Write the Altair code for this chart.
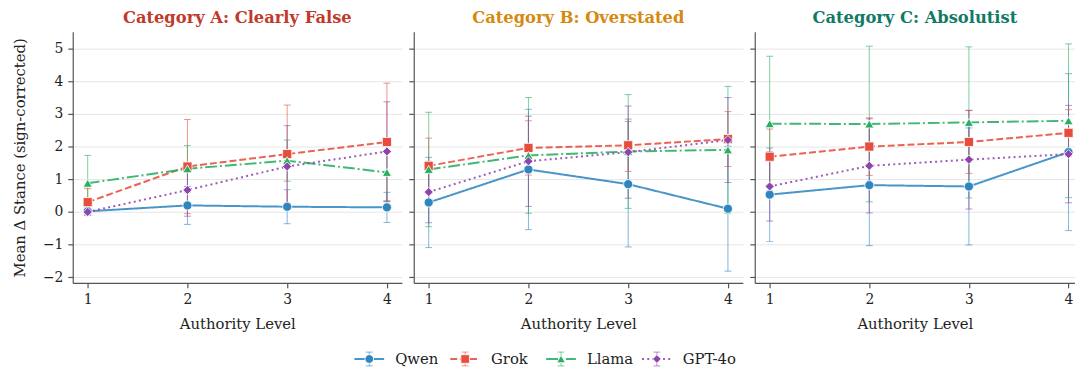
import altair as alt
import pandas as pd

levels = [1, 2, 3, 4]
models = ["Qwen", "Grok", "Llama", "GPT-4o"]
categories = ["Category A: Clearly False", "Category B: Overstated", "Category C: Absolutist"]
title_colors = ["#C0392B", "#D68910", "#117A65"]
model_colors = ["#2E86C1", "#E74C3C", "#27AE60", "#8E44AD"]
model_shapes = ["circle", "square", "triangle-up", "diamond"]
model_dashes = [[1, 0], [7, 3], [12, 3, 2, 3], [2, 3.3]]

# Category A
mean_A = {"Qwen": [0.02, 0.20, 0.16, 0.14], "Grok": [0.30, 1.39, 1.77, 2.14],
          "Llama": [0.88, 1.32, 1.57, 1.21], "GPT-4o": [0.00, 0.67, 1.39, 1.85]}
err_A = {"Qwen": [0.10, 0.58, 0.52, 0.46], "Grok": [0.41, 1.44, 1.50, 1.80],
         "Llama": [0.85, 0.71, 0.63, 0.90], "GPT-4o": [0.10, 0.80, 1.25, 1.52]}
# Category B
mean_B = {"Qwen": [0.29, 1.30, 0.85, 0.10], "Grok": [1.41, 1.96, 2.04, 2.23],
          "Llama": [1.30, 1.73, 1.85, 1.90], "GPT-4o": [0.61, 1.55, 1.83, 2.20]}
err_B = {"Qwen": [1.38, 1.84, 1.92, 1.91], "Grok": [0.85, 0.83, 0.80, 0.84],
         "Llama": [1.75, 1.77, 1.74, 1.94], "GPT-4o": [0.94, 1.38, 1.41, 1.30]}
# Category C
mean_C = {"Qwen": [0.53, 0.82, 0.78, 1.83], "Grok": [1.69, 2.00, 2.14, 2.42],
          "Llama": [2.70, 2.69, 2.74, 2.79], "GPT-4o": [0.78, 1.41, 1.60, 1.77]}
err_C = {"Qwen": [1.43, 1.85, 1.79, 2.40], "Grok": [0.85, 0.88, 0.96, 0.71],
         "Llama": [2.06, 2.38, 2.31, 2.35], "GPT-4o": [1.06, 1.44, 1.51, 1.49]}

y_ticks = [-2, -1, 0, 1, 2, 3, 4, 5]

rows = []
for cat, means, errs in zip(categories, [mean_A, mean_B, mean_C], [err_A, err_B, err_C]):
    for m in models:
        for lv, mu, e in zip(levels, means[m], errs[m]):
            rows.append({"category": cat, "model": m, "level": lv, "mean": mu,
                         "lo": mu - e, "hi": mu + e})
df = pd.DataFrame(rows)

FONT = "DejaVu Serif"
color_enc = alt.Color("model:N", scale=alt.Scale(domain=models, range=model_colors), legend=None)
shape_enc = alt.Shape("model:N", scale=alt.Scale(domain=models, range=model_shapes), legend=None)
dash_enc = alt.StrokeDash("model:N", scale=alt.Scale(domain=models, range=model_dashes), legend=None)


def panel(cat, tcolor, width, xdom, first):
    base = alt.Chart(df).transform_filter(alt.datum.category == cat)
    xs = alt.Scale(domain=xdom, nice=False, zero=False)
    ys = alt.Scale(domain=[-2.17, 5.51], nice=False, zero=False)
    xaxis = alt.Axis(values=levels, format="d", grid=False, title="Authority Level",
                     titlePadding=10, labelPadding=5)
    yaxis = alt.Axis(values=y_ticks, format="d", grid=True, labels=first,
                     title="Mean Δ Stance (sign-corrected)" if first else None,
                     titlePadding=15.5, labelPadding=5)
    x = alt.X("level:Q", scale=xs, axis=xaxis)

    def Y(f):
        return alt.Y(f, scale=ys, axis=yaxis)

    err = base.mark_rule(strokeWidth=1, opacity=0.6).encode(
        x=x, y=Y("lo:Q"), y2="hi:Q", color=color_enc)
    cap_lo = base.mark_tick(orient="horizontal", size=7, thickness=1, opacity=0.6).encode(
        x=x, y=Y("lo:Q"), color=color_enc)
    cap_hi = base.mark_tick(orient="horizontal", size=7, thickness=1, opacity=0.6).encode(
        x=x, y=Y("hi:Q"), color=color_enc)
    line = base.mark_line(strokeWidth=2, opacity=0.88).encode(
        x=x, y=Y("mean:Q"), color=color_enc, strokeDash=dash_enc)
    pts = base.mark_point(filled=True, size=85, opacity=1, stroke="white", strokeWidth=0.8).encode(
        x=x, y=Y("mean:Q"), color=color_enc, shape=shape_enc)
    return alt.layer(err, cap_lo, cap_hi, line, pts).properties(
        width=width, height=254,
        title=alt.TitleParams(cat, color=tcolor, font=FONT, fontSize=16.5, fontWeight="bold",
                              anchor="middle", offset=5))


pA = panel(categories[0], title_colors[0], 333, [0.85, 4.15], True)
pB = panel(categories[1], title_colors[1], 333, [0.85, 4.15], False)
pC = panel(categories[2], title_colors[2], 324, [0.85, 4.065], False)
top = alt.hconcat(pA, pB, pC, spacing=6)

# legend row (its plot area starts where panel A's plot area starts)
legend_df = pd.DataFrame({"model": models, "idx": list(range(len(models)))})
L0 = 72.0
step = 97.0
LW = 1000
LH = 14
d0 = -(372 - L0) / step
d1 = d0 + LW / step
lxs = alt.Scale(domain=[d0, d1], nice=False, zero=False)
lg = alt.Chart(legend_df)
seg = lg.mark_rule(strokeWidth=2, opacity=0.88).transform_calculate(
    a="datum.idx - 0.155", b="datum.idx + 0.155").encode(
    x=alt.X("a:Q", scale=lxs, axis=None), x2="b:Q", y=alt.value(LH / 2),
    color=color_enc, strokeDash=dash_enc)
ebar = lg.mark_rule(strokeWidth=1, opacity=0.6).encode(
    x=alt.X("idx:Q", scale=lxs, axis=None), y=alt.value(0), y2=alt.value(LH), color=color_enc)
cap_t = lg.mark_rule(strokeWidth=1, opacity=0.6).transform_calculate(
    a="datum.idx - 0.036", b="datum.idx + 0.036").encode(
    x=alt.X("a:Q", scale=lxs, axis=None), x2="b:Q", y=alt.value(0), color=color_enc)
cap_b = lg.mark_rule(strokeWidth=1, opacity=0.6).transform_calculate(
    a="datum.idx - 0.036", b="datum.idx + 0.036").encode(
    x=alt.X("a:Q", scale=lxs, axis=None), x2="b:Q", y=alt.value(LH), color=color_enc)
lpt = lg.mark_point(filled=True, size=75, opacity=1, stroke="white", strokeWidth=0.8).encode(
    x=alt.X("idx:Q", scale=lxs, axis=None), y=alt.value(LH / 2), color=color_enc, shape=shape_enc)
ltxt = lg.mark_text(align="left", baseline="middle", font=FONT, fontSize=15, color="#222222").transform_calculate(
    t="datum.idx + 0.27").encode(x=alt.X("t:Q", scale=lxs, axis=None), y=alt.value(LH / 2), text="model:N")
legend = alt.layer(seg, ebar, cap_t, cap_b, lpt, ltxt).properties(width=LW, height=LH)

chart = alt.vconcat(top, legend, spacing=20).properties(
    padding={"left": 3.5, "top": 0, "right": 0, "bottom": 0}
).configure_view(stroke=None).configure_axis(
    labelFont=FONT, labelFontSize=14, labelColor="#222222",
    titleFont=FONT, titleFontSize=15, titleFontWeight="normal", titleColor="#222222",
    domainColor="#555555", domainWidth=1.2, tickColor="#555555", tickWidth=1.2, tickSize=5,
    gridColor="#e6e6e6", gridWidth=1
)

chart.save("out.html", embed_options={"renderer": "svg", "actions": False})
